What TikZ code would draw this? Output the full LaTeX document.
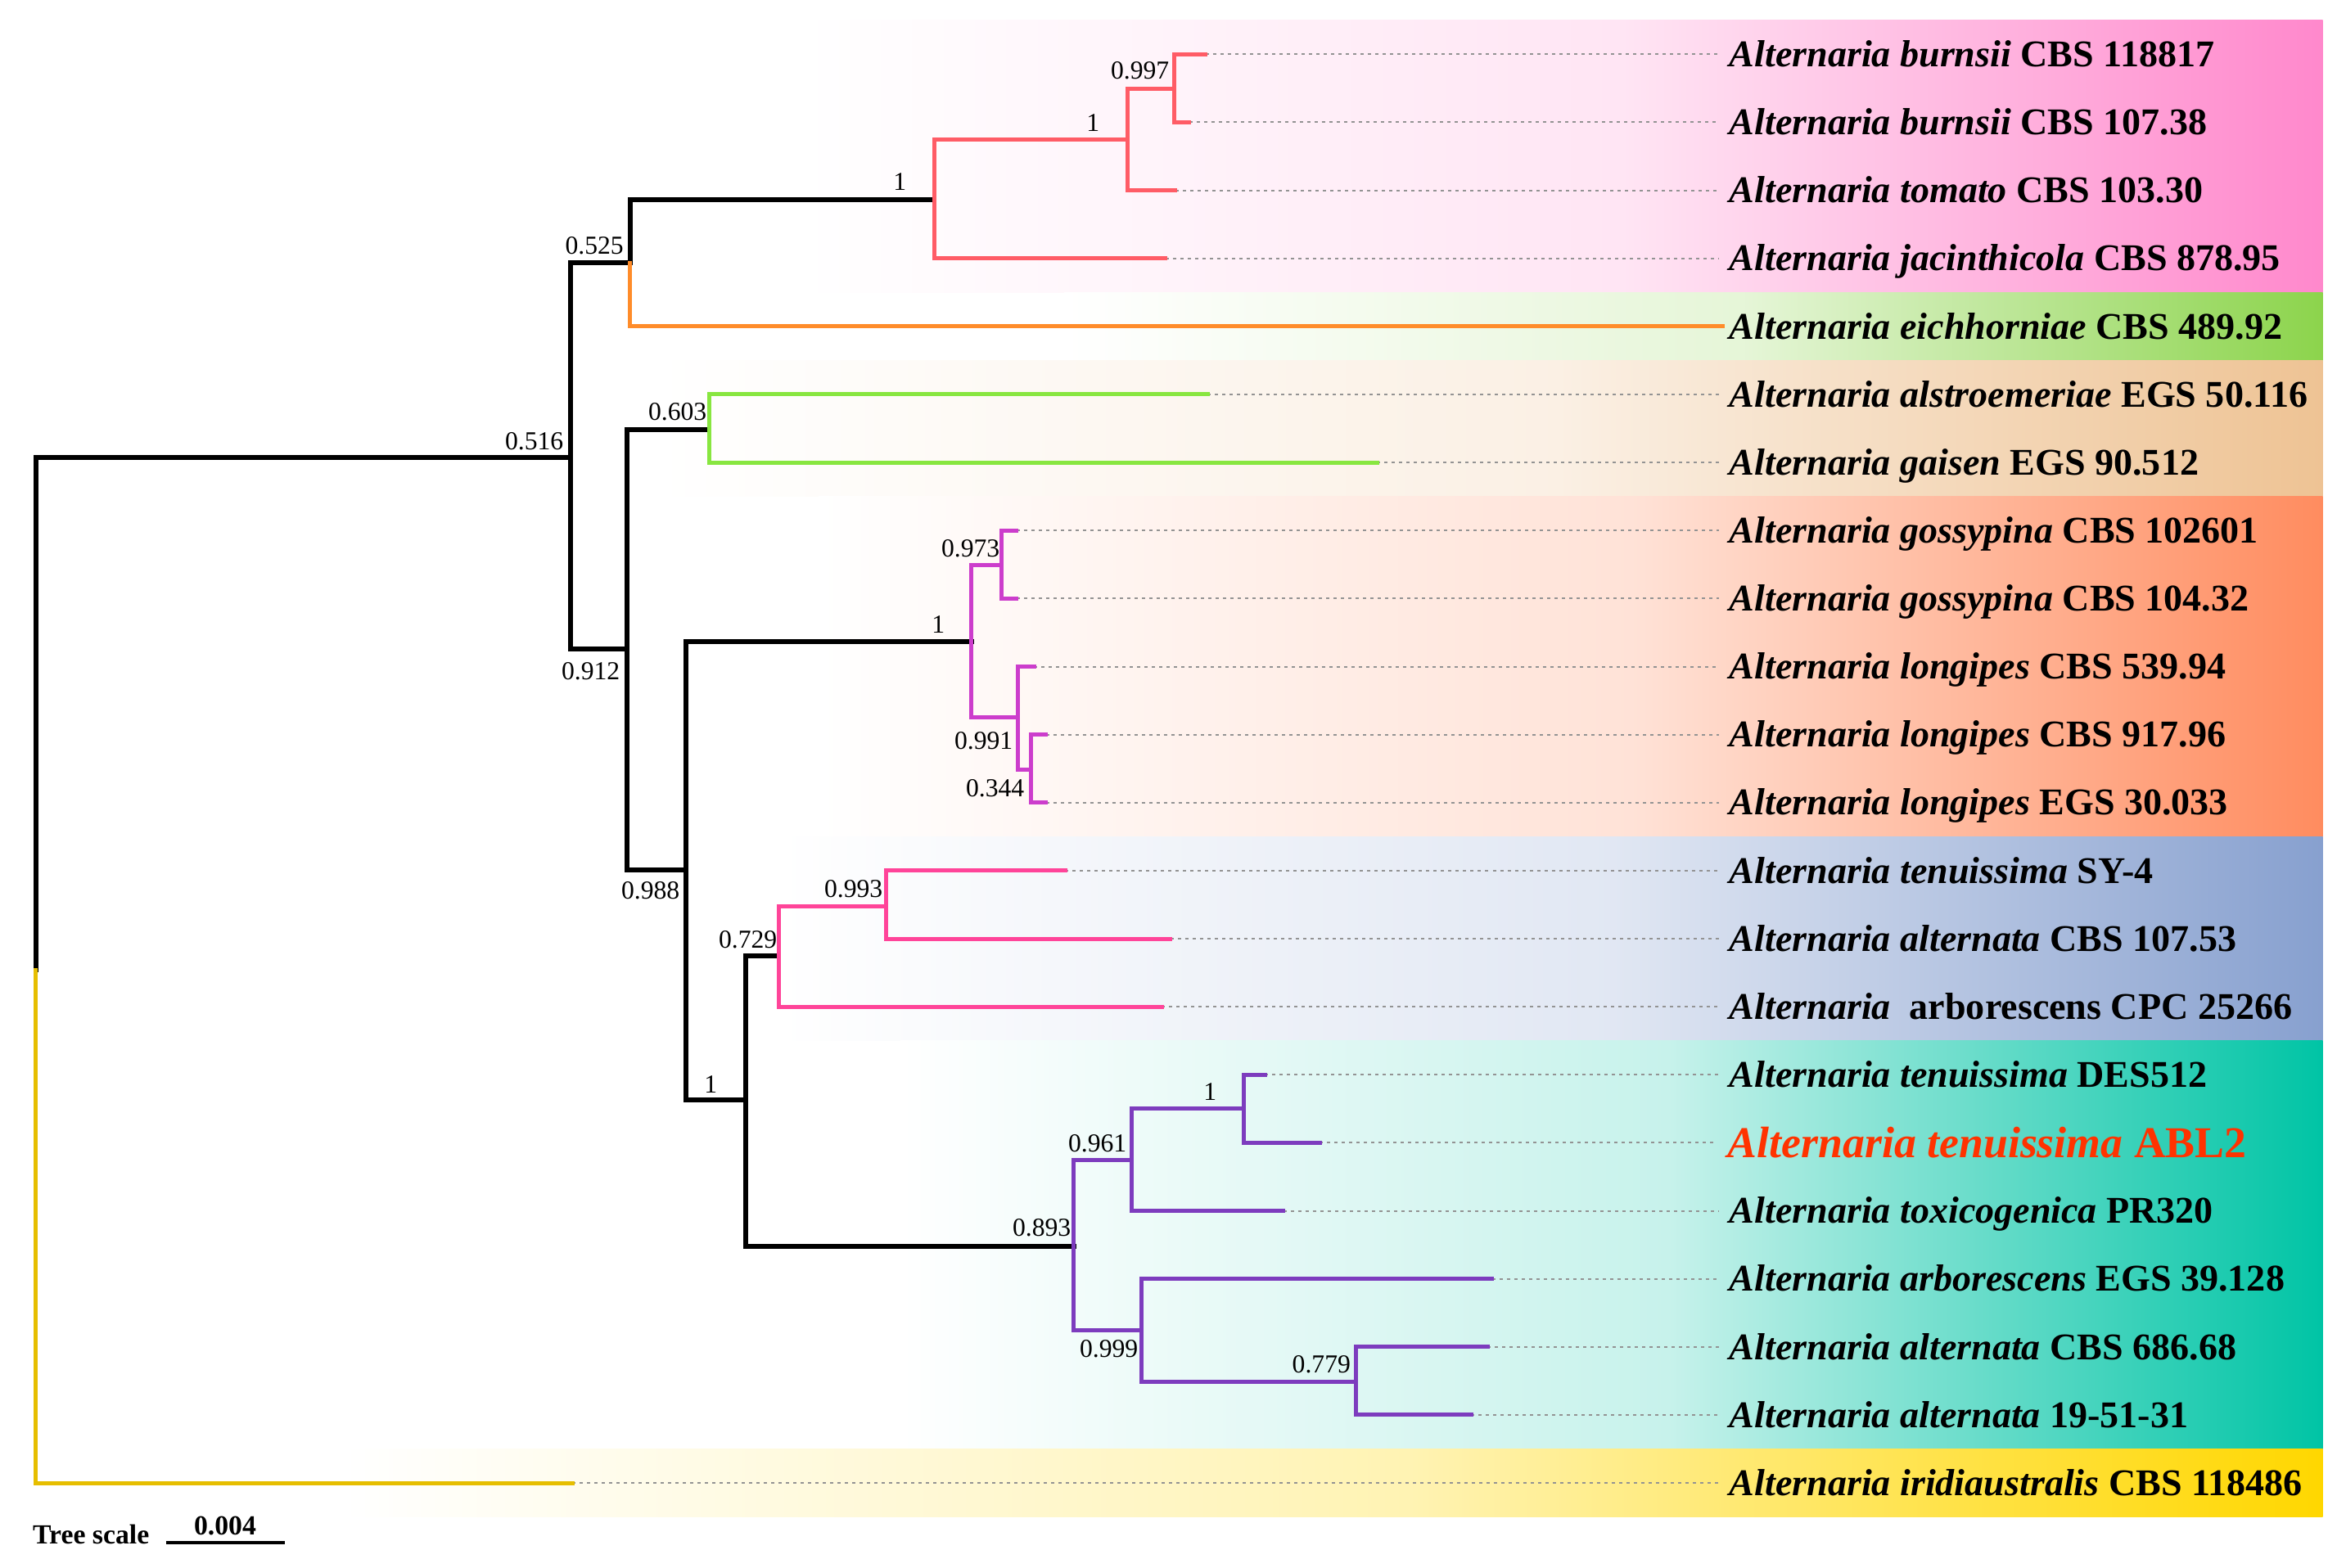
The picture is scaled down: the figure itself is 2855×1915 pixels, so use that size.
\documentclass[tikz,border=0pt]{standalone}
\usepackage{fontspec}
\setmainfont{Liberation Serif}
\definecolor{treered}{HTML}{FF5C66}
\definecolor{treeorange}{HTML}{FF8C2A}
\definecolor{treegreen}{HTML}{88E640}
\definecolor{treemag}{HTML}{CC3DCC}
\definecolor{treepink}{HTML}{FF4499}
\definecolor{treepurp}{HTML}{7D3CBE}
\definecolor{treeyel}{HTML}{E6BE00}
\definecolor{abl}{HTML}{FF3300}
\definecolor{bpink}{HTML}{FF88CC}
\definecolor{bgreen}{HTML}{8CD44C}
\definecolor{btan}{HTML}{EEC394}
\definecolor{borange}{HTML}{FF8C5F}
\definecolor{bblue}{HTML}{87A0CF}
\definecolor{bteal}{HTML}{00C4A5}
\definecolor{byellow}{HTML}{FFD700}
\pgfdeclarehorizontalshading{shpink}{100bp}{color(0bp)=(white); color(25bp)=(white); color(52bp)=(bpink!22!white); color(75bp)=(bpink); color(100bp)=(bpink)}
\pgfdeclarehorizontalshading{shgreen}{100bp}{color(0bp)=(white); color(25bp)=(white); color(52bp)=(bgreen!22!white); color(75bp)=(bgreen); color(100bp)=(bgreen)}
\pgfdeclarehorizontalshading{shtan}{100bp}{color(0bp)=(white); color(25bp)=(white); color(52bp)=(btan!25!white); color(75bp)=(btan); color(100bp)=(btan)}
\pgfdeclarehorizontalshading{shorange}{100bp}{color(0bp)=(white); color(25bp)=(white); color(52bp)=(borange!25!white); color(75bp)=(borange); color(100bp)=(borange)}
\pgfdeclarehorizontalshading{shblue}{100bp}{color(0bp)=(white); color(25bp)=(white); color(52bp)=(bblue!25!white); color(75bp)=(bblue); color(100bp)=(bblue)}
\pgfdeclarehorizontalshading{shteal}{100bp}{color(0bp)=(white); color(25bp)=(white); color(52bp)=(bteal!22!white); color(75bp)=(bteal); color(100bp)=(bteal)}
\pgfdeclarehorizontalshading{shyellow}{100bp}{color(0bp)=(white); color(25bp)=(white); color(52bp)=(byellow!30!white); color(75bp)=(byellow); color(100bp)=(byellow)}
\tikzset{
  tr/.style={line width=0.05cm, line cap=rect, line join=miter},
  trk/.style={line width=0.06cm, line cap=rect, line join=miter, black},
  dl/.style={draw=gray!85, line width=0.02cm, dash pattern=on 0.04cm off 0.05cm, shorten >=0.12cm},
  bs/.style={font=\fontsize{9pt}{10pt}\selectfont, inner sep=0pt, anchor=base east},
  lab/.style={font=\fontsize{13.1pt}{15pt}\selectfont\bfseries, inner sep=0pt, anchor=west, text height=0.35cm, text depth=0.045cm},
  labred/.style={font=\fontsize{15.3pt}{17pt}\selectfont\bfseries, text=abl, inner sep=0pt, anchor=west, text height=0.4cm, text depth=0.043cm},
}
\begin{document}
\begin{tikzpicture}[x=0.01cm,y=-0.01cm]
\useasboundingbox (0,0) rectangle (2855,1915);
% bands
\shade[shading=shpink] (980,24.7) rectangle (2837.7,357.3);
\shade[shading=shgreen] (1300,357.3) rectangle (2837.7,440.4);
\shade[shading=shtan] (800,440.4) rectangle (2837.7,606.6);
\shade[shading=shorange] (1000,606.6) rectangle (2837.7,1022.3);
\shade[shading=shblue] (950,1022.3) rectangle (2837.7,1271.7);
\shade[shading=shteal] (1100,1271.7) rectangle (2837.7,1770.5);
\shade[shading=shyellow] (420,1770.5) rectangle (2837.7,1853.6);
% internal nodes
\coordinate (R) at (43.7,1185);
\coordinate (A) at (696.6,558.5);
\coordinate (B) at (769.6,321.3);
\coordinate (C1) at (1141.4,243.8);
\coordinate (N1) at (1377.6,170);
\coordinate (N997) at (1434.7,108);
\coordinate (C) at (765.8,793.3);
\coordinate (D) at (866.4,524.5);
\coordinate (E) at (838.3,1063.3);
\coordinate (F) at (1186.7,784);
\coordinate (N973) at (1223.5,690);
\coordinate (N991) at (1243.9,876.7);
\coordinate (N344) at (1259.7,940);
\coordinate (G) at (910.5,1344.4);
\coordinate (H) at (951.1,1168.4);
\coordinate (N993) at (1082.3,1107.6);
\coordinate (I) at (1311.7,1522.8);
\coordinate (J) at (1382.6,1417.6);
\coordinate (K) at (1519.3,1354.9);
\coordinate (Q) at (1394.5,1625.2);
\coordinate (M) at (1656.2,1688.8);
% leaf tips
\coordinate (L1) at (1472.7,66.3);
\coordinate (L2) at (1452.6,149.4);
\coordinate (L3) at (1435.8,232.6);
\coordinate (L4) at (1423.5,315.7);
\coordinate (L5) at (2104,398.8);
\coordinate (L6) at (1475,481.9);
\coordinate (L7) at (1682,565.1);
\coordinate (L8) at (1241.8,648.2);
\coordinate (L9) at (1241.8,731.3);
\coordinate (L10) at (1263.3,814.5);
\coordinate (L11) at (1277.6,897.6);
\coordinate (L12) at (1277.6,980.7);
\coordinate (L13) at (1301.2,1063.9);
\coordinate (L14) at (1429.6,1147.0);
\coordinate (L15) at (1419,1230.1);
\coordinate (L16) at (1545.3,1313.2);
\coordinate (L17) at (1612,1396.4);
\coordinate (L18) at (1567.7,1479.5);
\coordinate (L19) at (1822.6,1562.6);
\coordinate (L20) at (1817,1645.8);
\coordinate (L21) at (1797,1728.9);
\coordinate (L22) at (699,1812.0);
% labels
\node[lab] (T1) at (2112,66.3) {\textit{Alternaria burnsii} CBS 118817};
\node[lab] (T2) at (2112,149.4) {\textit{Alternaria burnsii} CBS 107.38};
\node[lab] (T3) at (2112,232.6) {\textit{Alternaria tomato} CBS 103.30};
\node[lab] (T4) at (2112,315.7) {\textit{Alternaria jacinthicola} CBS 878.95};
\node[lab] (T5) at (2112,398.8) {\textit{Alternaria eichhorniae} CBS 489.92};
\node[lab] (T6) at (2112,481.9) {\textit{Alternaria alstroemeriae} EGS 50.116};
\node[lab] (T7) at (2112,565.1) {\textit{Alternaria gaisen} EGS 90.512};
\node[lab] (T8) at (2112,648.2) {\textit{Alternaria gossypina} CBS 102601};
\node[lab] (T9) at (2112,731.3) {\textit{Alternaria gossypina} CBS 104.32};
\node[lab] (T10) at (2112,814.5) {\textit{Alternaria longipes} CBS 539.94};
\node[lab] (T11) at (2112,897.6) {\textit{Alternaria longipes} CBS 917.96};
\node[lab] (T12) at (2112,980.7) {\textit{Alternaria longipes} EGS 30.033};
\node[lab] (T13) at (2112,1063.9) {\textit{Alternaria tenuissima} SY-4};
\node[lab] (T14) at (2112,1147.0) {\textit{Alternaria alternata} CBS 107.53};
\node[lab] (T15) at (2112,1230.1) {\textit{Alternaria}\ \ arborescens CPC 25266};
\node[lab] (T16) at (2112,1313.2) {\textit{Alternaria tenuissima} DES512};
\node[labred] (T17) at (2110,1396.4) {\textit{Alternaria tenuissima} ABL2};
\node[lab] (T18) at (2112,1479.5) {\textit{Alternaria toxicogenica} PR320};
\node[lab] (T19) at (2112,1562.6) {\textit{Alternaria arborescens} EGS 39.128};
\node[lab] (T20) at (2112,1645.8) {\textit{Alternaria alternata} CBS 686.68};
\node[lab] (T21) at (2112,1728.9) {\textit{Alternaria alternata} 19-51-31};
\node[lab] (T22) at (2112,1812.0) {\textit{Alternaria iridiaustralis} CBS 118486};
% dotted leaders
\foreach \k in {1,2,3,4,6,7,8,9,10,11,12,13,14,15,16,17,18,19,20,21,22}
  \draw[dl] (L\k) -- (T\k.west);
% tree
\draw[trk] (R) |- (A);
\draw[tr,treeyel] (R) |- (L22);
\draw[trk] (A) |- (B);
\draw[trk] (A) |- (C);
\draw[trk] (B) |- (C1);
\draw[tr,treeorange] (B) |- (L5);
\draw[tr,treered] (C1) |- (N1);
\draw[tr,treered] (C1) |- (L4);
\draw[tr,treered] (N1) |- (N997);
\draw[tr,treered] (N1) |- (L3);
\draw[tr,treered] (N997) |- (L1);
\draw[tr,treered] (N997) |- (L2);
\draw[trk] (C) |- (D);
\draw[trk] (C) |- (E);
\draw[tr,treegreen] (D) |- (L6);
\draw[tr,treegreen] (D) |- (L7);
\draw[trk] (E) |- (F);
\draw[trk] (E) |- (G);
\draw[tr,treemag] (F) |- (N973);
\draw[tr,treemag] (F) |- (N991);
\draw[tr,treemag] (N973) |- (L8);
\draw[tr,treemag] (N973) |- (L9);
\draw[tr,treemag] (N991) |- (L10);
\draw[tr,treemag] (N991) |- (N344);
\draw[tr,treemag] (N344) |- (L11);
\draw[tr,treemag] (N344) |- (L12);
\draw[trk] (G) |- (H);
\draw[trk] (G) |- (I);
\draw[tr,treepink] (H) |- (N993);
\draw[tr,treepink] (H) |- (L15);
\draw[tr,treepink] (N993) |- (L13);
\draw[tr,treepink] (N993) |- (L14);
\draw[tr,treepurp] (I) |- (J);
\draw[tr,treepurp] (I) |- (Q);
\draw[tr,treepurp] (J) |- (K);
\draw[tr,treepurp] (J) |- (L18);
\draw[tr,treepurp] (K) |- (L16);
\draw[tr,treepurp] (K) |- (L17);
\draw[tr,treepurp] (Q) |- (L19);
\draw[tr,treepurp] (Q) |- (M);
\draw[tr,treepurp] (M) |- (L20);
\draw[tr,treepurp] (M) |- (L21);
% support values
\node[bs] (s516) at (689,549) {0.516};
\node[bs] (s525) at (762.5,310) {0.525};
\node[bs] (s1a) at (1108,232) {1};
\node[bs] (s1b) at (1344,160) {1};
\node[bs] (s997) at (1429,97) {0.997};
\node[bs] (s603) at (864,513) {0.603};
\node[bs] (s912) at (758,830) {0.912};
\node[bs] (s1c) at (1155,773) {1};
\node[bs] (s973) at (1222,680) {0.973};
\node[bs] (s991) at (1238,915) {0.991};
\node[bs] (s344) at (1252,973) {0.344};
\node[bs] (s988) at (831,1098) {0.988};
\node[bs] (s729) at (950,1158) {0.729};
\node[bs] (s993) at (1079,1096) {0.993};
\node[bs] (s1d) at (877,1335) {1};
\node[bs] (s961) at (1377,1407) {0.961};
\node[bs] (s1e) at (1487,1344) {1};
\node[bs] (s893) at (1309,1510) {0.893};
\node[bs] (s999) at (1391,1658) {0.999};
\node[bs] (s779) at (1650.6,1677) {0.779};
% tree scale
\node[font=\fontsize{9.6pt}{10pt}\selectfont\bfseries, inner sep=0pt, anchor=base west] (ts) at (39.5,1886.7) {Tree scale};
\coordinate (sb1) at (202.8,1885);
\coordinate (sb2) at (347.6,1885);
\draw[line width=0.04cm] (sb1) -- (sb2);
\node[font=\fontsize{9.6pt}{10pt}\selectfont\bfseries, inner sep=0pt, anchor=base] (tsv) at (275,1875) {0.004};
\end{tikzpicture}
\end{document}
